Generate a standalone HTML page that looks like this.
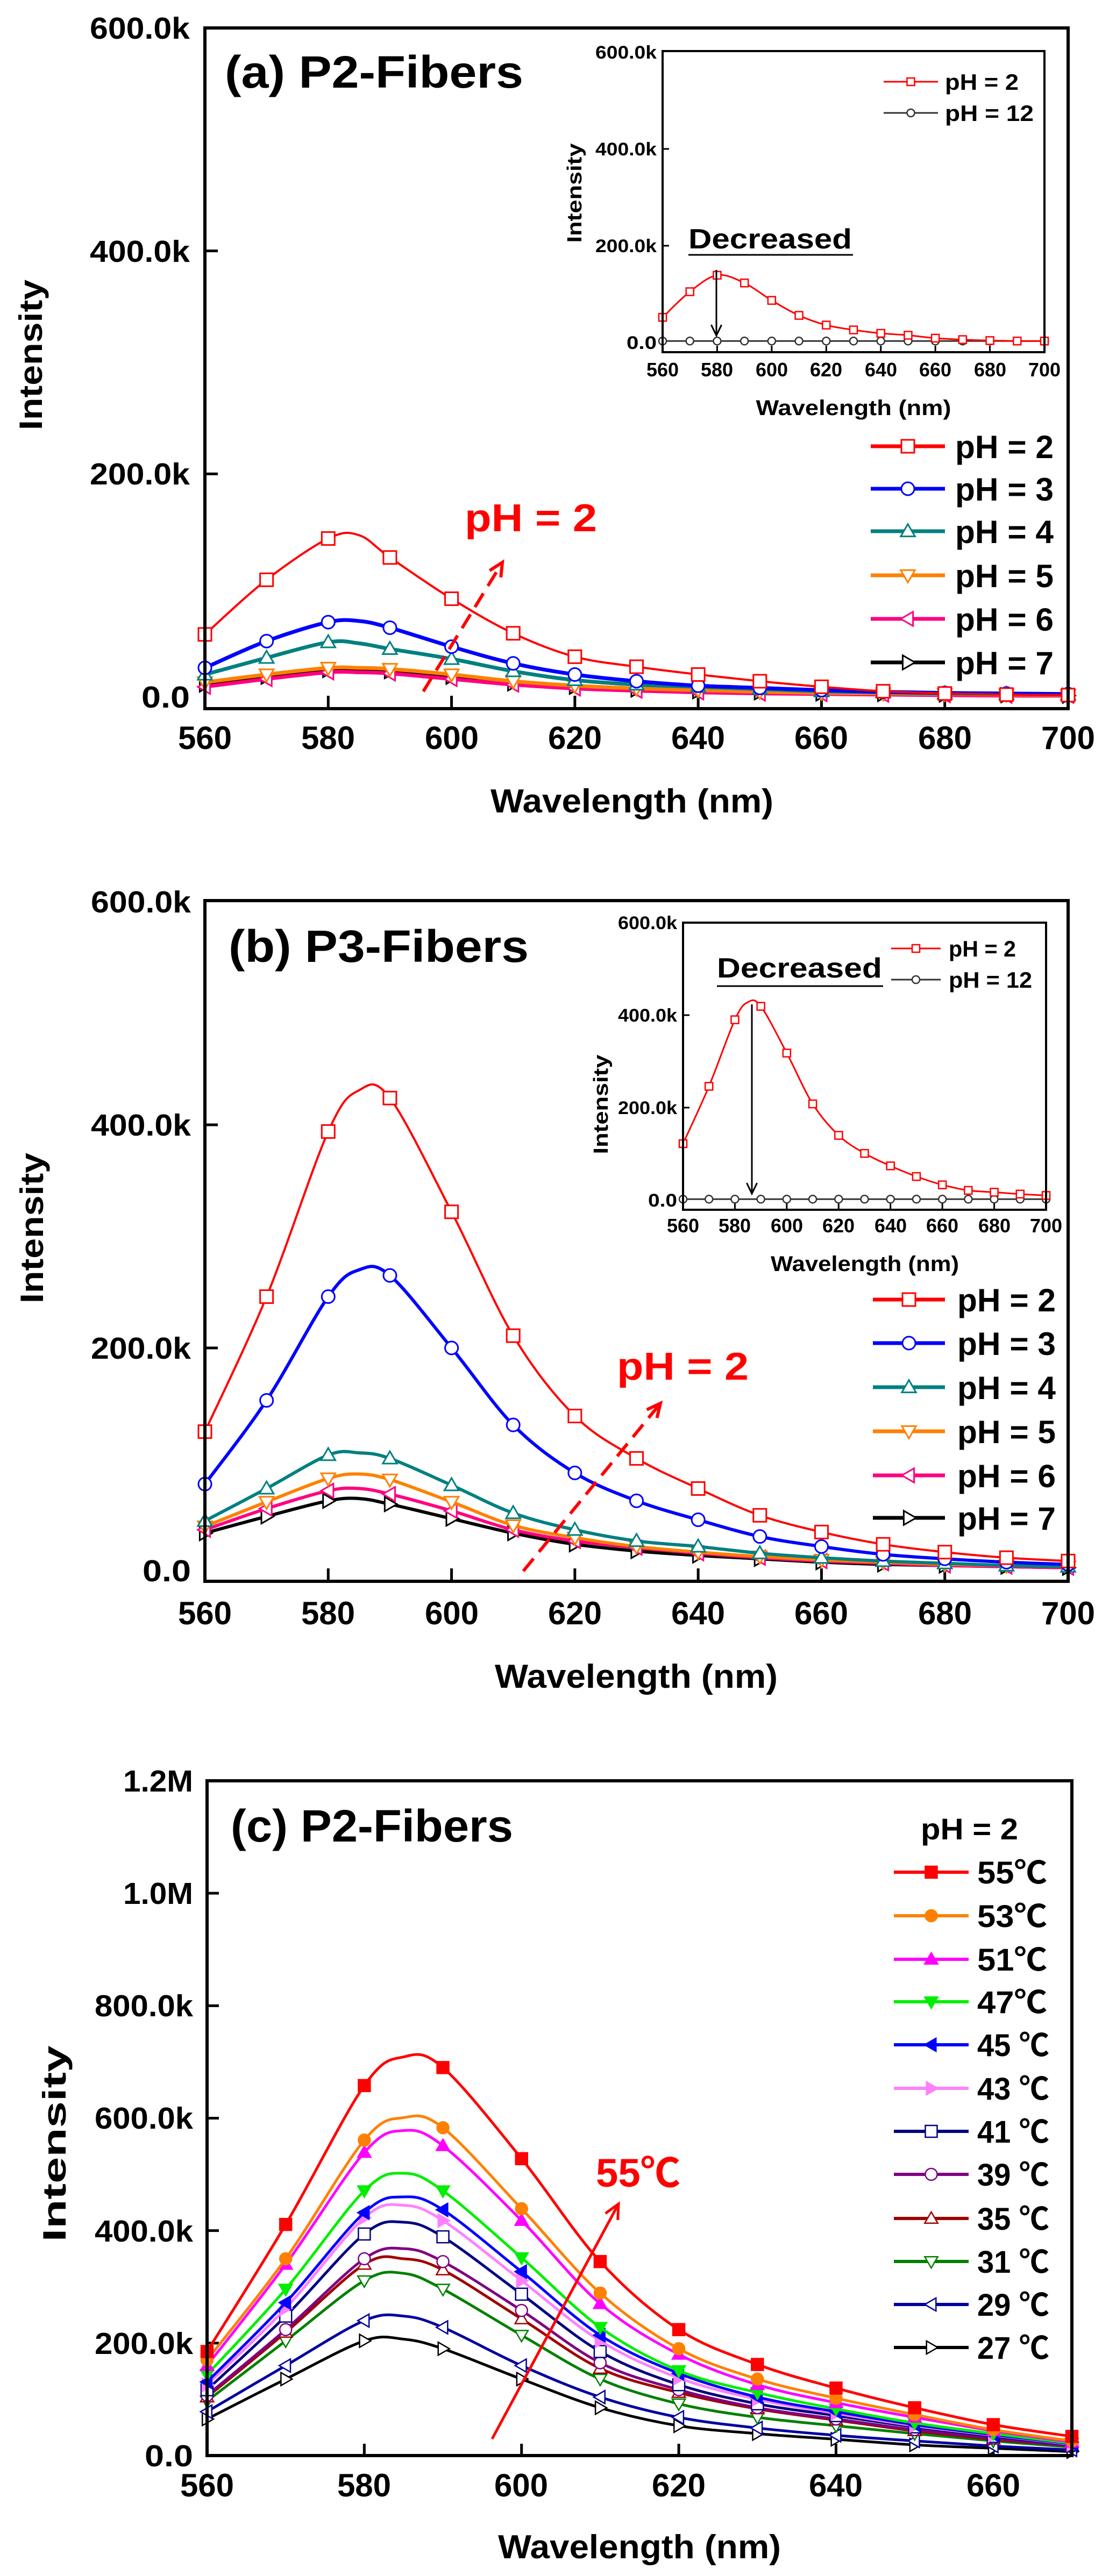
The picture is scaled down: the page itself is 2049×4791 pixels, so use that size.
<!DOCTYPE html>
<html><head><meta charset="utf-8">
<style>
html,body{margin:0;padding:0;background:#fff;}
svg{display:block;}
text{font-family:"Liberation Sans","Noto Sans CJK SC",sans-serif;font-weight:bold;fill:#000;}
</style></head>
<body>
<svg id="s" xmlns="http://www.w3.org/2000/svg" width="2049" height="4791" viewBox="0 0 2049 4791">
<rect width="2049" height="4791" fill="#fff"/>
<g id="g"></g>

<!-- ===== Panel (a) ===== -->
<rect x="381" y="52" width="1605" height="1266" fill="none" stroke="#000" stroke-width="6"/>
<text x="418" y="163" font-size="84" textLength="555" lengthAdjust="spacingAndGlyphs">(a) P2-Fibers</text>
<g font-size="57" text-anchor="end">
<text x="353" y="72" textLength="186" lengthAdjust="spacingAndGlyphs">600.0k</text>
<text x="353" y="487" textLength="186" lengthAdjust="spacingAndGlyphs">400.0k</text>
<text x="353" y="901" textLength="186" lengthAdjust="spacingAndGlyphs">200.0k</text>
<text x="353" y="1316" textLength="90" lengthAdjust="spacingAndGlyphs">0.0</text>
</g>
<g font-size="60" text-anchor="middle">
<text x="381" y="1393">560</text><text x="610" y="1393">580</text><text x="840" y="1393">600</text><text x="1069" y="1393">620</text><text x="1298" y="1393">640</text><text x="1527" y="1393">660</text><text x="1757" y="1393">680</text><text x="1986" y="1393">700</text>
</g>
<text x="1175" y="1511" font-size="62" text-anchor="middle" textLength="526" lengthAdjust="spacingAndGlyphs">Wavelength (nm)</text>
<text transform="translate(78,660) rotate(-90)" font-size="60" text-anchor="middle" textLength="280" lengthAdjust="spacingAndGlyphs">Intensity</text>
<g font-size="60"><text x="1776" y="852" textLength="183" lengthAdjust="spacingAndGlyphs">pH = 2</text><text x="1776" y="931" textLength="183" lengthAdjust="spacingAndGlyphs">pH = 3</text><text x="1776" y="1010" textLength="183" lengthAdjust="spacingAndGlyphs">pH = 4</text><text x="1776" y="1092" textLength="183" lengthAdjust="spacingAndGlyphs">pH = 5</text><text x="1776" y="1173" textLength="183" lengthAdjust="spacingAndGlyphs">pH = 6</text><text x="1776" y="1254" textLength="183" lengthAdjust="spacingAndGlyphs">pH = 7</text></g>
<text x="864" y="988" font-size="72" fill="#ff0000" style="fill:#ff0000" textLength="246" lengthAdjust="spacingAndGlyphs">pH = 2</text>
<!-- inset a -->
<rect x="1232" y="95" width="710" height="560" fill="none" stroke="#000" stroke-width="4"/>
<g font-size="34" text-anchor="end">
<text x="1221" y="109" textLength="114" lengthAdjust="spacingAndGlyphs">600.0k</text>
<text x="1221" y="289" textLength="114" lengthAdjust="spacingAndGlyphs">400.0k</text>
<text x="1221" y="469" textLength="114" lengthAdjust="spacingAndGlyphs">200.0k</text>
<text x="1221" y="649" textLength="56" lengthAdjust="spacingAndGlyphs">0.0</text>
</g>
<g font-size="36" text-anchor="middle">
<text x="1232" y="700">560</text><text x="1333" y="700">580</text><text x="1435" y="700">600</text><text x="1536" y="700">620</text><text x="1638" y="700">640</text><text x="1739" y="700">660</text><text x="1841" y="700">680</text><text x="1942" y="700">700</text>
</g>
<text x="1587" y="772" font-size="40" text-anchor="middle" textLength="363" lengthAdjust="spacingAndGlyphs">Wavelength (nm)</text>
<text transform="translate(1081,359) rotate(-90)" font-size="38" text-anchor="middle" textLength="185" lengthAdjust="spacingAndGlyphs">Intensity</text>
<text x="1280" y="462" font-size="52" textLength="304" lengthAdjust="spacingAndGlyphs">Decreased</text>
<line x1="1280" y1="474" x2="1586" y2="474" stroke="#000" stroke-width="3"/>
<g font-size="42"><text x="1757" y="167" textLength="137" lengthAdjust="spacingAndGlyphs">pH = 2</text><text x="1757" y="225" textLength="165" lengthAdjust="spacingAndGlyphs">pH = 12</text></g>

<!-- ===== Panel (b) ===== -->
<rect x="381" y="1675" width="1605" height="1266" fill="none" stroke="#000" stroke-width="6"/>
<text x="425" y="1789" font-size="84" textLength="558" lengthAdjust="spacingAndGlyphs">(b) P3-Fibers</text>
<g font-size="57" text-anchor="end">
<text x="355" y="1697" textLength="186" lengthAdjust="spacingAndGlyphs">600.0k</text>
<text x="355" y="2112" textLength="186" lengthAdjust="spacingAndGlyphs">400.0k</text>
<text x="355" y="2527" textLength="186" lengthAdjust="spacingAndGlyphs">200.0k</text>
<text x="355" y="2941" textLength="90" lengthAdjust="spacingAndGlyphs">0.0</text>
</g>
<g font-size="60" text-anchor="middle">
<text x="381" y="3021">560</text><text x="610" y="3021">580</text><text x="840" y="3021">600</text><text x="1069" y="3021">620</text><text x="1298" y="3021">640</text><text x="1527" y="3021">660</text><text x="1757" y="3021">680</text><text x="1986" y="3021">700</text>
</g>
<text x="1183" y="3139" font-size="62" text-anchor="middle" textLength="526" lengthAdjust="spacingAndGlyphs">Wavelength (nm)</text>
<text transform="translate(80,2284) rotate(-90)" font-size="60" text-anchor="middle" textLength="280" lengthAdjust="spacingAndGlyphs">Intensity</text>
<g font-size="60"><text x="1780" y="2439" textLength="183" lengthAdjust="spacingAndGlyphs">pH = 2</text><text x="1780" y="2520" textLength="183" lengthAdjust="spacingAndGlyphs">pH = 3</text><text x="1780" y="2602" textLength="183" lengthAdjust="spacingAndGlyphs">pH = 4</text><text x="1780" y="2684" textLength="183" lengthAdjust="spacingAndGlyphs">pH = 5</text><text x="1780" y="2766" textLength="183" lengthAdjust="spacingAndGlyphs">pH = 6</text><text x="1780" y="2845" textLength="183" lengthAdjust="spacingAndGlyphs">pH = 7</text></g>
<text x="1147" y="2566" font-size="72" style="fill:#ff0000" textLength="245" lengthAdjust="spacingAndGlyphs">pH = 2</text>
<!-- inset b -->
<rect x="1270" y="1716" width="675" height="534" fill="none" stroke="#000" stroke-width="4"/>
<g font-size="34" text-anchor="end">
<text x="1259" y="1728" textLength="110" lengthAdjust="spacingAndGlyphs">600.0k</text>
<text x="1259" y="1900" textLength="110" lengthAdjust="spacingAndGlyphs">400.0k</text>
<text x="1259" y="2072" textLength="110" lengthAdjust="spacingAndGlyphs">200.0k</text>
<text x="1259" y="2244" textLength="54" lengthAdjust="spacingAndGlyphs">0.0</text>
</g>
<g font-size="36" text-anchor="middle">
<text x="1270" y="2292">560</text><text x="1366" y="2292">580</text><text x="1463" y="2292">600</text><text x="1559" y="2292">620</text><text x="1656" y="2292">640</text><text x="1752" y="2292">660</text><text x="1849" y="2292">680</text><text x="1945" y="2292">700</text>
</g>
<text x="1608" y="2364" font-size="40" text-anchor="middle" textLength="350" lengthAdjust="spacingAndGlyphs">Wavelength (nm)</text>
<text transform="translate(1130,2054) rotate(-90)" font-size="38" text-anchor="middle" textLength="185" lengthAdjust="spacingAndGlyphs">Intensity</text>
<text x="1333" y="1818" font-size="52" textLength="307" lengthAdjust="spacingAndGlyphs">Decreased</text>
<line x1="1333" y1="1834" x2="1642" y2="1834" stroke="#000" stroke-width="3"/>
<g font-size="42"><text x="1764" y="1779" textLength="125" lengthAdjust="spacingAndGlyphs">pH = 2</text><text x="1764" y="1837" textLength="155" lengthAdjust="spacingAndGlyphs">pH = 12</text></g>

<!-- ===== Panel (c) ===== -->
<rect x="385" y="3312" width="1608" height="1255" fill="none" stroke="#000" stroke-width="6"/>
<text x="429" y="3425" font-size="84" textLength="525" lengthAdjust="spacingAndGlyphs">(c) P2-Fibers</text>
<g font-size="57" text-anchor="end">
<text x="359" y="3332" textLength="130" lengthAdjust="spacingAndGlyphs">1.2M</text>
<text x="359" y="3541" textLength="130" lengthAdjust="spacingAndGlyphs">1.0M</text>
<text x="359" y="3750" textLength="183" lengthAdjust="spacingAndGlyphs">800.0k</text>
<text x="359" y="3959" textLength="183" lengthAdjust="spacingAndGlyphs">600.0k</text>
<text x="359" y="4169" textLength="183" lengthAdjust="spacingAndGlyphs">400.0k</text>
<text x="359" y="4378" textLength="183" lengthAdjust="spacingAndGlyphs">200.0k</text>
<text x="359" y="4587" textLength="90" lengthAdjust="spacingAndGlyphs">0.0</text>
</g>
<g font-size="60" text-anchor="middle">
<text x="385" y="4643">560</text><text x="677" y="4643">580</text><text x="969" y="4643">600</text><text x="1262" y="4643">620</text><text x="1554" y="4643">640</text><text x="1847" y="4643">660</text>
</g>
<text x="1189" y="4758" font-size="62" text-anchor="middle" textLength="526" lengthAdjust="spacingAndGlyphs">Wavelength (nm)</text>
<text transform="translate(122,3987) rotate(-90)" font-size="60" text-anchor="middle" textLength="365" lengthAdjust="spacingAndGlyphs">Intensity</text>
<text x="1712" y="3421" font-size="56" textLength="181" lengthAdjust="spacingAndGlyphs">pH = 2</text>
<g font-size="58">
<text x="1817" y="3503" textLength="130" lengthAdjust="spacingAndGlyphs">55℃</text>
<text x="1817" y="3584" textLength="130" lengthAdjust="spacingAndGlyphs">53℃</text>
<text x="1817" y="3665" textLength="130" lengthAdjust="spacingAndGlyphs">51℃</text>
<text x="1817" y="3744" textLength="130" lengthAdjust="spacingAndGlyphs">47℃</text>
<text x="1817" y="3824" textLength="134" lengthAdjust="spacingAndGlyphs">45 ℃</text>
<text x="1817" y="3905" textLength="134" lengthAdjust="spacingAndGlyphs">43 ℃</text>
<text x="1817" y="3985" textLength="134" lengthAdjust="spacingAndGlyphs">41 ℃</text>
<text x="1817" y="4065" textLength="134" lengthAdjust="spacingAndGlyphs">39 ℃</text>
<text x="1817" y="4147" textLength="134" lengthAdjust="spacingAndGlyphs">35 ℃</text>
<text x="1817" y="4227" textLength="134" lengthAdjust="spacingAndGlyphs">31 ℃</text>
<text x="1817" y="4307" textLength="134" lengthAdjust="spacingAndGlyphs">29 ℃</text>
<text x="1817" y="4387" textLength="134" lengthAdjust="spacingAndGlyphs">27 ℃</text>
</g>
<text x="1108" y="4067" font-size="74" style="fill:#ff0000" textLength="157" lengthAdjust="spacingAndGlyphs">55℃</text>
</svg>
<script>
(function(){
var NS="http://www.w3.org/2000/svg",G=document.getElementById("g");
function el(t,a){var e=document.createElementNS(NS,t);for(var k in a)e.setAttribute(k,a[k]);G.appendChild(e);return e;}
function M(x0,x1,X0,X1,y0,y1,Y0,Y1){return{x:function(v){return X0+(v-x0)*(X1-X0)/(x1-x0)},y:function(v){return Y0+(v-y0)*(Y1-Y0)/(y1-y0)}};}
function path(pts){var d="M"+pts[0][0].toFixed(1)+","+pts[0][1].toFixed(1);
for(var i=0;i<pts.length-1;i++){var p0=pts[i-1]||pts[i],p1=pts[i],p2=pts[i+1],p3=pts[i+2]||p2;
var c1=[p1[0]+(p2[0]-p0[0])/6,p1[1]+(p2[1]-p0[1])/6],c2=[p2[0]-(p3[0]-p1[0])/6,p2[1]-(p3[1]-p1[1])/6];
d+="C"+c1[0].toFixed(1)+","+c1[1].toFixed(1)+" "+c2[0].toFixed(1)+","+c2[1].toFixed(1)+" "+p2[0].toFixed(1)+","+p2[1].toFixed(1);}return d;}
function marker(t,x,y,s,c,filled,sw){var f=filled?c:"#fff",h=s/2,a={fill:f,stroke:c,"stroke-width":sw};
if(t=="sq"){a.x=x-h;a.y=y-h;a.width=s;a.height=s;el("rect",a);}
else if(t=="ci"){a.cx=x;a.cy=y;a.r=h;el("circle",a);}
else{var p;if(t=="up")p=[[x,y-h*1.1],[x-h*1.1,y+h*0.8],[x+h*1.1,y+h*0.8]];
else if(t=="dn")p=[[x,y+h*1.1],[x-h*1.1,y-h*0.8],[x+h*1.1,y-h*0.8]];
else if(t=="lf")p=[[x-h*1.1,y],[x+h*0.8,y-h*1.1],[x+h*0.8,y+h*1.1]];
else p=[[x+h*1.1,y],[x-h*0.8,y-h*1.1],[x-h*0.8,y+h*1.1]];
a.points=p.map(function(q){return q.join(",")}).join(" ");el("polygon",a);}}
function series(m,xs,vs,c,lw,mt,ms,filled,msw){var pts=xs.map(function(x,i){return[m.x(x),m.y(vs[i])]});
el("path",{d:path(pts),fill:"none",stroke:c,"stroke-width":lw,"stroke-linejoin":"round"});
xs.forEach(function(x,i){if(x%10==0)marker(mt,m.x(x),m.y(vs[i]),ms,c,filled,msw);});}
function legend(x1,x2,y,c,lw,mt,ms,filled,msw){el("line",{x1:x1,y1:y,x2:x2,y2:y,stroke:c,"stroke-width":lw});marker(mt,(x1+x2)/2,y,ms,c,filled,msw);}
function ticks(m,xv,yv,yb,xl,len,w){xv.forEach(function(v){var X=m.x(v);el("line",{x1:X,y1:yb,x2:X,y2:yb-len,stroke:"#000","stroke-width":w});});
yv.forEach(function(v){var Y=m.y(v);el("line",{x1:xl,y1:Y,x2:xl+len,y2:Y,stroke:"#000","stroke-width":w});});}
function arrow(x1,y1,x2,y2,c,w,dash,hl){var a={x1:x1,y1:y1,x2:x2,y2:y2,stroke:c,"stroke-width":w};if(dash)a["stroke-dasharray"]=dash;el("line",a);
var ang=Math.atan2(y2-y1,x2-x1),p=function(d){return[x2-hl*Math.cos(ang+d),y2-hl*Math.sin(ang+d)]};
var A=p(0.45),B=p(-0.45);el("polyline",{points:A.join(",")+" "+x2+","+y2+" "+B.join(","),fill:"none",stroke:c,"stroke-width":w});}

var XS=[560,570,580,585,590,600,610,620,630,640,650,660,670,680,690,700];
var X10=[560,570,580,590,600,610,620,630,640,650,660,670,680,690,700];
var cols=["#ff0000","#0000ff","#008080","#ff8000","#ff0080","#000000"],mk=["sq","ci","up","dn","lf","rt"];
// Panel a
var ma=M(560,700,381,1986,0,600,1296,52);
ticks(ma,[580,600,620,640,660,680],[200,400],1318,381,24,5);
var A=[[56,105,142,145,125,88,57,36,27,20,14,9,5,3,2,1.5],[26,50,67,68,62,45,30,20,14,10,8,6,4.5,3.5,3,2.5],[20,35,49,48,43,34,23,15,11,9,7,5,4,3,2.5,2],[13,20,26,26,25,20,14,10,7.5,6,4.5,3.5,3,2.5,2,1.5],[9,16,22,22,21,16,11,7.5,5.5,4,3,2.5,2,1.5,1,1],[11,18,24,24,23,18,12,9,6.5,5,4,3,2.5,2,1.5,1]];
for(var i=5;i>=0;i--)series(ma,XS,A[i],cols[i],i==0?4:7,mk[i],24,false,3);
var LA=[830,909,988,1070,1151,1232];
for(var i=0;i<6;i++)legend(1619,1757,LA[i],cols[i],7,mk[i],24,false,3);
arrow(787,1286,934,1046,"#ff0000",6,"30,16",28);
var ia=M(560,700,1232,1942,0,600,637,97);
ticks(ia,[580,600,620,640,660,680],[200,400],655,1232,12,3);
series(ia,X10,[3,3,3,3,3,3,3,3,3,3,3,3,3,3,3],"#333",3,"ci",14,false,2.5);
series(ia,X10,[52,105,139,123,87,56,36,26,19,15,9,6,4,3,3],"#ff0000",3,"sq",14,false,2.5);
legend(1643,1744,152,"#ff0000",3,"sq",14,false,2.5);legend(1643,1744,210,"#333",3,"ci",14,false,2.5);
arrow(1332,502,1332,624,"#000",3,null,22);
// Panel b
var mb=M(560,700,381,1986,0,600,2922,1677);
ticks(mb,[580,600,620,640,660,680],[200,400],2941,381,24,5);
var B=[[125,246,394,431,424,322,211,139,101,74,50,35,24,17,12,9],[78,153,246,270,265,200,131,88,63,46,31,22,15,11,8,6],[45,74,104,106,101,77,52,37,27,22,16,12,9,7,5,4],[40,62,83,87,82,62,41,30,22,17,13,10,8,6,5,4],[37,56,72,74,69,54,37,27,21,16,12,9,7,5,4,3],[34,49,63,65,60,47,34,24,18,14,11,8,6,5,4,3]];
for(var i=5;i>=0;i--)series(mb,XS,B[i],cols[i],i==0?4:6,mk[i],24,false,3);
var LB=[2417,2498,2580,2662,2744,2823];
for(var i=0;i<6;i++)legend(1623,1757,LB[i],cols[i],7,mk[i],24,false,3);
arrow(973,2922,1228,2610,"#ff0000",6,"30,16",28);
var ib=M(560,700,1270,1945,0,600,2232,1716);
ticks(ib,[580,600,620,640,660,680],[200,400],2250,1270,12,3);
series(ib,X10,[2,2,2,2,2,2,2,2,2,2,2,2,2,2,2],"#333",3,"ci",14,false,2.5);
series(ib,XS,[122,246,390,428,419,318,208,140,101,74,51,33,21,17,13,10],"#ff0000",3,"sq",14,false,2.5);
legend(1657,1749,1764,"#ff0000",3,"sq",14,false,2.5);legend(1657,1749,1822,"#333",3,"ci",14,false,2.5);
arrow(1398,1868,1398,2220,"#000",3,null,22);
// Panel c
var mc=M(560,670,385,1993,0,1200,4567,3312);
ticks(mc,[580,600,620,640,660],[200,400,600,800,1000],4567,385,22,5);
var XC=[560,570,580,585,590,600,610,620,630,640,650,660,670];
var C=[
["#ff0000","sq",1,[185,411,658,709,690,528,345,224,162,120,85,55,34]],
["#ff8000","ci",1,[170,350,561,601,583,439,289,190,136,102,73,46,26]],
["#ff00ff","up",1,[160,340,539,578,551,418,270,180,126,94,68,44,24]],
["#00ee00","dn",1,[144,296,471,502,471,352,228,151,112,83,58,39,22]],
["#0000ff","lf",1,[131,272,432,460,437,327,214,146,104,78,55,37,21]],
["#ff80ff","rt",1,[126,262,423,445,418,311,204,138,100,75,53,36,20]],
["#000080","sq",0,[117,248,394,415,389,287,185,126,92,71,51,34,19]],
["#800080","ci",0,[107,224,350,368,345,258,165,117,85,65,46,31,17]],
["#a00000","up",0,[104,219,340,350,330,243,155,112,83,63,44,29,17]],
["#008000","dn",0,[97,204,311,324,296,214,136,92,68,53,39,26,15]],
["#0000a0","lf",0,[78,160,240,248,228,160,104,68,49,36,26,17,10]],
["#000000","rt",0,[65,136,204,207,190,136,85,53,39,29,19,13,7]]];
for(var i=C.length-1;i>=0;i--)series(mc,XC,C[i][3],C[i][0],5,C[i][1],22,C[i][2]==1,2.5);
var LC=[3482,3563,3644,3723,3803,3884,3964,4044,4126,4206,4286,4366];
for(var i=0;i<12;i++)legend(1662,1801,LC[i],C[i][0],6,C[i][1],22,C[i][2]==1,2.5);
arrow(915,4536,1150,4099,"#ff0000",5,null,30);
})();
</script>
</body></html>
